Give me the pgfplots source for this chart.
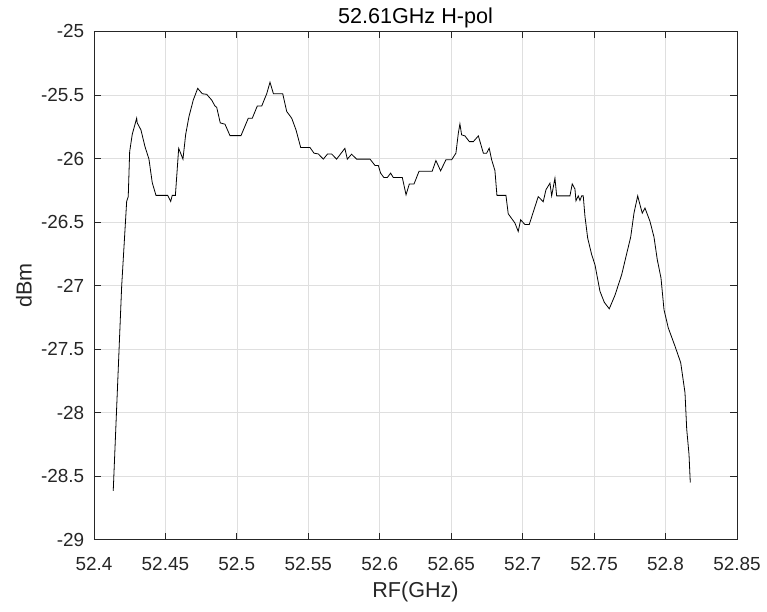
\documentclass[border=0pt]{standalone}
\usepackage{fontspec}
\setmainfont{Liberation Sans}
\usepackage{pgfplots}
\pgfplotsset{compat=1.18}
\definecolor{axgray}{RGB}{38,38,38}
\definecolor{gridgray}{RGB}{223,223,223}
\begin{document}
\begin{tikzpicture}
\useasboundingbox (-70.5pt,-54pt) rectangle (505.1pt,405pt);
\begin{axis}[
  at={(0,0)}, anchor=south west,
  scale only axis,
  width=482.6pt, height=381.4pt,
  xmin=52.4, xmax=52.85, ymin=-29, ymax=-25,
  xtick={52.4,52.45,...,52.86},
  ytick={-29,-28.5,...,-24.9},
  scaled ticks=false,
  /pgf/number format/assume math mode=true,
  /pgf/number format/precision=2,
  xticklabel style={/pgf/number format/fixed, yshift=-9.5pt},
  yticklabel style={/pgf/number format/fixed, xshift=-3.8pt},
  tick pos=both, tick align=inside,
  major tick length=5pt,
  tick style={axgray, line width=0.6pt},
  axis line style={axgray, line width=0.6pt},
  grid=major,
  major grid style={gridgray, line width=0.5pt},
  tick label style={font=\fontsize{14.2}{16}\selectfont, text=axgray},
  title={52.61GHz H-pol},
  title style={font=\fontsize{16.2}{18}\selectfont, text=black, at={(axis description cs:0.5,1)}, anchor=base, yshift=-0.4pt},
  xlabel={RF(GHz)},
  xlabel style={font=\fontsize{16.2}{18}\selectfont, text=axgray, at={(axis description cs:0.5,0)}, anchor=base, yshift=-43.7pt},
  ylabel={dBm},
  ylabel style={font=\fontsize{16.2}{18}\selectfont, text=axgray, at={(axis description cs:0,0.5)}, anchor=base, yshift=46.7pt},
]
\addplot[black, line width=0.6pt, mark=none] coordinates {
(52.4135,-28.616)
(52.4194,-27.006)
(52.4229,-26.338)
(52.4240,-26.30)
(52.4250,-25.946)
(52.4268,-25.81)
(52.4299,-25.683)
(52.4303,-25.72)
(52.4329,-25.775)
(52.4357,-25.906)
(52.4385,-26.005)
(52.4408,-26.19)
(52.4434,-26.29)
(52.4516,-26.29)
(52.4537,-26.338)
(52.4548,-26.29)
(52.4570,-26.29)
(52.4593,-25.92)
(52.4623,-26.005)
(52.4642,-25.81)
(52.4665,-25.67)
(52.4695,-25.54)
(52.4726,-25.448)
(52.4758,-25.49)
(52.4789,-25.495)
(52.4824,-25.54)
(52.4847,-25.587)
(52.4859,-25.597)
(52.4884,-25.72)
(52.4917,-25.73)
(52.4952,-25.82)
(52.5029,-25.82)
(52.5080,-25.683)
(52.5108,-25.683)
(52.5143,-25.587)
(52.5174,-25.587)
(52.5209,-25.49)
(52.5232,-25.40)
(52.5256,-25.49)
(52.5321,-25.49)
(52.5349,-25.63)
(52.5384,-25.683)
(52.5414,-25.775)
(52.5447,-25.914)
(52.5512,-25.914)
(52.5540,-25.958)
(52.5570,-25.964)
(52.5605,-26.005)
(52.5635,-25.964)
(52.5663,-25.964)
(52.5698,-26.005)
(52.5756,-25.92)
(52.5773,-26.005)
(52.5803,-25.966)
(52.5838,-26.005)
(52.5932,-26.005)
(52.5967,-26.055)
(52.5990,-26.055)
(52.6006,-26.115)
(52.6029,-26.15)
(52.6053,-26.15)
(52.6076,-26.115)
(52.6095,-26.15)
(52.6158,-26.15)
(52.6184,-26.286)
(52.6207,-26.20)
(52.6240,-26.20)
(52.6275,-26.10)
(52.6367,-26.10)
(52.6393,-26.016)
(52.6426,-26.097)
(52.6463,-26.01)
(52.6503,-26.01)
(52.6533,-25.958)
(52.6550,-25.80)
(52.6561,-25.728)
(52.6573,-25.814)
(52.6596,-25.822)
(52.6627,-25.867)
(52.6655,-25.867)
(52.6690,-25.822)
(52.6725,-25.958)
(52.6748,-25.958)
(52.6766,-25.919)
(52.6783,-26.01)
(52.6806,-26.095)
(52.6820,-26.29)
(52.6883,-26.29)
(52.6899,-26.435)
(52.6946,-26.508)
(52.6969,-26.574)
(52.6986,-26.482)
(52.7016,-26.52)
(52.7046,-26.52)
(52.7109,-26.30)
(52.7144,-26.34)
(52.7163,-26.246)
(52.7191,-26.194)
(52.7203,-26.294)
(52.7226,-26.155)
(52.7238,-26.294)
(52.7331,-26.294)
(52.7347,-26.20)
(52.7366,-26.24)
(52.7373,-26.333)
(52.7389,-26.294)
(52.7401,-26.33)
(52.7413,-26.294)
(52.7424,-26.294)
(52.7436,-26.456)
(52.7455,-26.626)
(52.7483,-26.757)
(52.7506,-26.836)
(52.7541,-27.045)
(52.7571,-27.131)
(52.7606,-27.183)
(52.7646,-27.076)
(52.7693,-26.914)
(52.7732,-26.73)
(52.7756,-26.618)
(52.7779,-26.43)
(52.7805,-26.294)
(52.7821,-26.364)
(52.7837,-26.43)
(52.7856,-26.39)
(52.7891,-26.495)
(52.7919,-26.618)
(52.7942,-26.796)
(52.7968,-26.94)
(52.7989,-27.189)
(52.8019,-27.333)
(52.8066,-27.477)
(52.8106,-27.607)
(52.8136,-27.843)
(52.8148,-28.13)
(52.8164,-28.327)
(52.8173,-28.55)
};
\end{axis}
\end{tikzpicture}
\end{document}
